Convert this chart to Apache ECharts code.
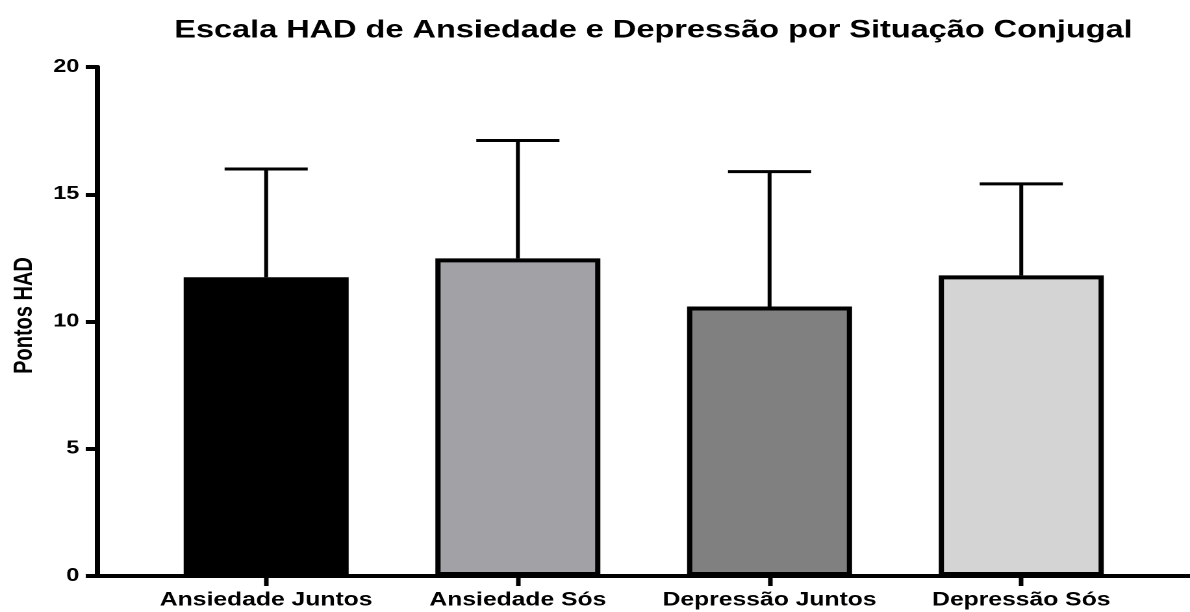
<!DOCTYPE html>
<html>
<head>
<meta charset="utf-8">
<script src="https://cdn.jsdelivr.net/npm/echarts@6/dist/echarts.min.js"></script>
<style>
  html, body { margin: 0; padding: 0; background: #fff; overflow: hidden; }
  /* o gráfico original está esticado na horizontal */
  #main { width: 916px; height: 612px; transform-origin: 0 0; transform: scaleX(1.2991); }
</style>
</head>
<body>
<div id="main"></div>
<script>
// dados
var categorias = ['Ansiedade Juntos', 'Ansiedade Sós', 'Depressão Juntos', 'Depressão Sós'];
var medias = [11.74, 12.48, 10.59, 11.81];
var desvios = [4.25, 4.63, 5.3, 3.6];
var cores = ['#000000', '#a2a1a6', '#808080', '#d4d4d4'];
var yTicks = [0, 5, 10, 15, 20];

var chart = echarts.init(document.getElementById('main'), null, { devicePixelRatio: 2 });
var fonte = '"Liberation Sans", Arial, sans-serif';

var option = {
  backgroundColor: '#fff',
  animation: false,
  title: {
    text: 'Escala HAD de Ansiedade e Depressão por Situação Conjugal',
    left: 498,
    top: 13,
    textAlign: 'center',
    textStyle: { fontFamily: fonte, fontWeight: 'bold', fontSize: 25, color: '#000' }
  },
  grid: [
    { left: 108, right: 33, top: 67, bottom: 36, containLabel: false },
    { left: 75, right: 0, top: 67, bottom: 36, containLabel: false }
  ],
  xAxis: [
    {
      type: 'category',
      gridIndex: 0,
      data: categorias,
      axisLine: { show: false },
      axisTick: { show: true, interval: 0, alignWithLabel: true, length: 10, lineStyle: { color: '#000', width: 3.5 } },
      axisLabel: { interval: 0, margin: 15, fontFamily: fonte, fontWeight: 'bold', fontSize: 19, color: '#000' },
      splitLine: { show: false }
    },
    {
      // linha do eixo X estendida até o eixo Y
      type: 'value',
      gridIndex: 1,
      min: 0,
      max: 1,
      axisLine: { show: true, onZero: false, lineStyle: { color: '#000', width: 4 } },
      axisTick: { show: false },
      axisLabel: { show: false },
      splitLine: { show: false }
    }
  ],
  yAxis: [
    {
      type: 'value',
      gridIndex: 0,
      min: yTicks[0],
      max: yTicks[yTicks.length - 1],
      interval: 5,
      offset: 33,
      name: 'Pontos HAD',
      nameLocation: 'middle',
      nameGap: 46,
      nameTextStyle: { fontFamily: fonte, fontWeight: 'bold', fontSize: 20, color: '#000', padding: [0, 0, 0, 12] },
      axisLine: { show: true, lineStyle: { color: '#000', width: 4 } },
      axisTick: { show: true, length: 9, lineStyle: { color: '#000', width: 4 } },
      axisLabel: { margin: 14, fontFamily: fonte, fontWeight: 'bold', fontSize: 18, color: '#000' },
      splitLine: { show: false }
    },
    { type: 'value', gridIndex: 1, show: false, min: 0, max: 1 }
  ],
  series: [
    {
      type: 'bar',
      xAxisIndex: 0,
      yAxisIndex: 0,
      barWidth: 127,
      data: medias.map(function (v, i) {
        return { value: v, itemStyle: { color: cores[i] } };
      }),
      itemStyle: { borderColor: '#000', borderWidth: 4 }
    },
    {
      // barras de erro (desvio padrão, só para cima)
      type: 'custom',
      xAxisIndex: 0,
      yAxisIndex: 0,
      z: 5,
      data: medias.map(function (v, i) { return [i, v, v + desvios[i]]; }),
      renderItem: function (params, api) {
        var base = api.coord([api.value(0), api.value(1)]);
        var topo = api.coord([api.value(0), api.value(2)]);
        var meia = 32;
        var estilo = { stroke: '#000', lineWidth: 3 };
        return {
          type: 'group',
          children: [
            { type: 'line', shape: { x1: base[0], y1: base[1], x2: topo[0], y2: topo[1] }, style: estilo },
            { type: 'line', shape: { x1: topo[0] - meia, y1: topo[1], x2: topo[0] + meia, y2: topo[1] }, style: estilo }
          ]
        };
      }
    }
  ]
};

chart.setOption(option);
</script>
</body>
</html>
